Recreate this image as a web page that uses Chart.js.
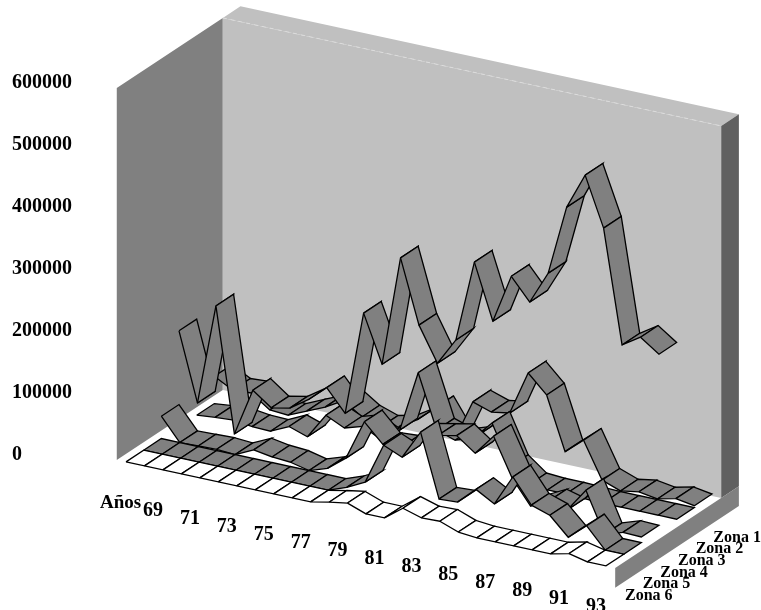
<!DOCTYPE html>
<html>
<head>
<meta charset="utf-8">
<title>Zonas</title>
<script src="https://cdn.jsdelivr.net/npm/chart.js@4/dist/chart.umd.min.js"></script>
<style>
  html, body { margin: 0; padding: 0; background: #fff; }
  canvas { display: block; }
</style>
</head>
<body>
<canvas id="zonas" width="761" height="610"></canvas>
<script>
var years = ['69','70','71','72','73','74','75','76','77','78','79','80','81','82','83','84','85','86','87','88','89','90','91','92','93','94','95'];
var yTicks = [0, 100000, 200000, 300000, 400000, 500000, 600000];
var zoneNames = ['Zona 1', 'Zona 2', 'Zona 3', 'Zona 4', 'Zona 5', 'Zona 6'];

var zona1 = [44000,28000,30000,9000,7000,20000,33000,50000,30000,20000,27000,45000,71000,26000,93000,83000,88000,159000,130000,45000,70000,12000,1000,6000,1000,8000,3000];
var zona2 = [0,3000,5000,1000,0,14000,4000,45000,31000,40000,25000,47000,146000,60000,50000,60000,90500,27000,4000,2000,2000,1000,0,0,0,0,0];
var zona3 = [155000,45000,208000,8000,85000,63000,69000,89000,115000,80000,248000,172000,350000,248000,193000,237000,369000,280000,359000,324000,377000,490000,548000,469000,287000,306000,285000];
var zona4 = [36000,0,1000,2000,0,14000,9000,7000,0,10000,33000,98000,68000,70000,96000,102000,108000,86000,120000,59000,20000,35000,27000,65000,0,10000,9000];
var zona5 = [0,0,0,0,0,0,0,0,0,0,0,11000,26000,92000,79000,126000,24500,26000,53000,36000,86000,47000,37000,8000,33000,0,0];
var zona6 = [0,0,0,0,0,0,0,0,0,0,0,6000,11000,0,0,22000,13000,14000,3000,0,0,0,0,0,7000,0,0];
var zones = [zona1, zona2, zona3, zona4, zona5, zona6];

// oblique view: one year, one zone, and px per value
var PX = 100000 / 62;
var ORIGIN_X = 126, ORIGIN_Y = 460;
var YEAR_DX = 18.46, YEAR_DY = 4;
var ZONE_DX = 17.67, ZONE_DY = 11.67;

function project(i, d, v) {
    return {
        x: ORIGIN_X + YEAR_DX * i + ZONE_DX * d,
        y: v - (YEAR_DY * i - ZONE_DY * d + 1.9) * PX
    };
}

function wall(points, color) {
    return {
        data: points.concat([points[0]]),
        fill: 'shape',
        backgroundColor: color,
        borderWidth: 0,
        pointRadius: 0,
        showLine: true
    };
}

var LAST = years.length - 1;
var FIRST_EDGE = -0.5, LAST_EDGE = LAST + 0.5;
var TOP = yTicks[yTicks.length - 1];
var DEPTH = zones.length;
var THICK = -32000;

var datasets = [
    wall([project(FIRST_EDGE, 0, 0), project(FIRST_EDGE, DEPTH, 0), project(FIRST_EDGE, DEPTH, TOP), project(FIRST_EDGE, 0, TOP)], '#808080'),
    wall([project(FIRST_EDGE, DEPTH, 0), project(LAST_EDGE, DEPTH, 0), project(LAST_EDGE, DEPTH, TOP), project(FIRST_EDGE, DEPTH, TOP)], '#c0c0c0'),
    wall([project(FIRST_EDGE, DEPTH, TOP), project(FIRST_EDGE, DEPTH + 1, TOP), project(LAST_EDGE, DEPTH + 1, TOP), project(LAST_EDGE, DEPTH, TOP)], '#c0c0c0'),
    wall([project(LAST_EDGE, DEPTH, 0), project(LAST_EDGE, DEPTH + 1, 0), project(LAST_EDGE, DEPTH + 1, TOP), project(LAST_EDGE, DEPTH, TOP)], '#606060'),
    wall([project(LAST_EDGE, 0, 0), project(LAST_EDGE, DEPTH + 1, 0), project(LAST_EDGE, DEPTH + 1, THICK), project(LAST_EDGE, 0, THICK)], '#808080'),
    {
        data: [project(FIRST_EDGE, DEPTH, TOP), project(LAST_EDGE, DEPTH, TOP)],
        borderColor: '#dcdcdc',
        borderWidth: 1,
        borderDash: [4, 4],
        pointRadius: 0,
        showLine: true
    }
];

// back zone first, each ribbon left to right
zones.forEach(function (values, z) {
    var d = zones.length - 1 - z;
    for (var i = 0; i < values.length - 1; i++) {
        var a = project(i, d, values[i]);
        datasets.push({
            data: [a, project(i, d + 1, values[i]), project(i + 1, d + 1, values[i + 1]), project(i + 1, d, values[i + 1]), a],
            fill: 'shape',
            backgroundColor: z === zones.length - 1 ? '#ffffff' : '#808080',
            borderColor: '#000000',
            borderWidth: 1.3,
            pointRadius: 0,
            showLine: true
        });
    }
});

// chart.js paints the highest order first
datasets.forEach(function (ds, n) { ds.order = datasets.length - n; });

var textLabels = {
    id: 'textLabels',
    afterDraw: function (chart) {
        var ctx = chart.ctx, sx = chart.scales.x, sy = chart.scales.y;
        ctx.save();
        ctx.fillStyle = '#000';
        ctx.textAlign = 'left';
        ctx.textBaseline = 'alphabetic';

        ctx.font = 'bold 19px "Liberation Serif"';
        ctx.fillText('Años', 100, 508);

        ctx.textAlign = 'center';
        ctx.font = 'bold 20px "Liberation Serif"';
        for (var i = 0; i < years.length - 2; i += 2) {
            var p = project(i, 0, 0);
            ctx.fillText(years[i], sx.getPixelForValue(p.x) + 27, sy.getPixelForValue(p.y) + 54);
        }

        ctx.textAlign = 'left';
        ctx.font = 'bold 16px "Liberation Serif"';
        zoneNames.forEach(function (name, z) {
            var q = project(LAST, zones.length - 1 - z, 0);
            ctx.fillText(name, sx.getPixelForValue(q.x) + 19, sy.getPixelForValue(q.y) + 34);
        });
        ctx.restore();
    }
};

new Chart(document.getElementById('zonas').getContext('2d'), {
    type: 'scatter',
    data: { datasets: datasets },
    options: {
        responsive: false,
        animation: false,
        events: [],
        layout: { padding: 0, autoPadding: false },
        plugins: { legend: { display: false }, tooltip: { enabled: false } },
        scales: {
            x: { type: 'linear', display: false, min: 0, max: 761 },
            y: {
                type: 'linear',
                min: -(610 - ORIGIN_Y) * PX,
                max: ORIGIN_Y * PX,
                grid: { display: false, drawTicks: false },
                border: { display: false },
                afterBuildTicks: function (axis) {
                    axis.ticks = yTicks.map(function (v) { return { value: v }; });
                },
                afterFit: function (axis) {
                    axis.width = 0;
                    axis.paddingTop = axis.paddingBottom = 0;
                },
                ticks: {
                    mirror: true,
                    padding: 12,
                    labelOffset: -5,
                    autoSkip: false,
                    color: '#000',
                    callback: function (v) { return String(v); },
                    font: { family: 'Liberation Serif', size: 20, weight: 'bold' }
                }
            }
        }
    },
    plugins: [textLabels]
});
</script>
</body>
</html>
